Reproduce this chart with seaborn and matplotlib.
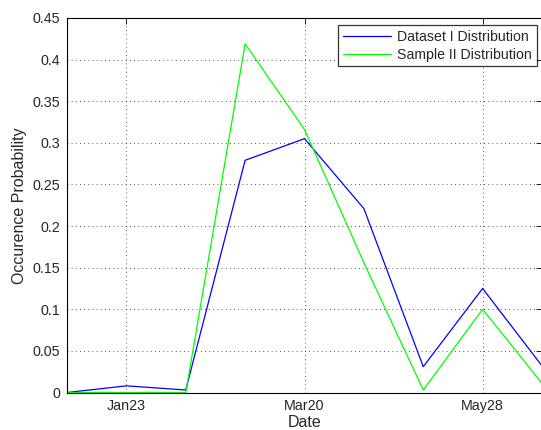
import matplotlib
matplotlib.use("Agg")
import matplotlib.pyplot as plt
import seaborn as sns
import pandas as pd

# Occurrence probabilities per sampling period
periods = list(range(9))
dataset_i = [0.0, 0.008, 0.003, 0.279, 0.305, 0.221, 0.031, 0.125, 0.032]
sample_ii = [0.0, 0.0, 0.0, 0.419, 0.316, 0.156, 0.003, 0.100, 0.011]
tick_positions = [1, 4, 7]
tick_labels = ["Jan23", "Mar20", "May28"]
series_names = ["Dataset I Distribution", "Sample II Distribution"]

df = pd.concat([
    pd.DataFrame({"period": periods, "prob": dataset_i, "series": series_names[0]}),
    pd.DataFrame({"period": periods, "prob": sample_ii, "series": series_names[1]}),
])

sns.set_theme(style="white")
plt.rcParams["font.family"] = ["Liberation Sans", "DejaVu Sans"]

fig = plt.figure(figsize=(5.41, 4.30), dpi=100)
ax = fig.add_axes([67 / 541, 1 - 392.5 / 430, 475 / 541, (392.5 - 18) / 430])

sns.lineplot(data=df, x="period", y="prob", hue="series",
             palette={series_names[0]: "#0000ff", series_names[1]: "#00ff00"},
             linewidth=0.9, ax=ax)

ax.set_xlim(0, 8)
ax.set_ylim(0, 0.45)
ax.set_xticks(tick_positions)
ax.set_xticklabels(tick_labels)
ax.set_yticks([i * 0.05 for i in range(10)])
ax.set_yticklabels(["0", "0.05", "0.1", "0.15", "0.2", "0.25", "0.3", "0.35", "0.4", "0.45"])

ax.grid(True, linestyle=(0, (1, 4)), color="#222222", linewidth=0.6)
ax.tick_params(direction="in", length=4, width=0.6, labelsize=10.3, color="black",
               top=True, right=True, pad=5)
for s in ax.spines.values():
    s.set_color("black")
    s.set_linewidth(0.8)

ax.set_xlabel("Date", fontsize=11.5, labelpad=1)
ax.set_ylabel("Occurence Probability", fontsize=11.5, labelpad=4)

leg = ax.legend(loc="upper right", bbox_to_anchor=(537 / 541, 1 - 25 / 430),
                bbox_transform=fig.transFigure, borderaxespad=0,
                fontsize=10.2, frameon=True, fancybox=False,
                edgecolor="black", borderpad=0.35, handlelength=3.35,
                handletextpad=0.45, labelspacing=0.25)
leg.get_frame().set_linewidth(0.9)
leg.set_title(None)

fig.savefig("out.png", dpi=100)
